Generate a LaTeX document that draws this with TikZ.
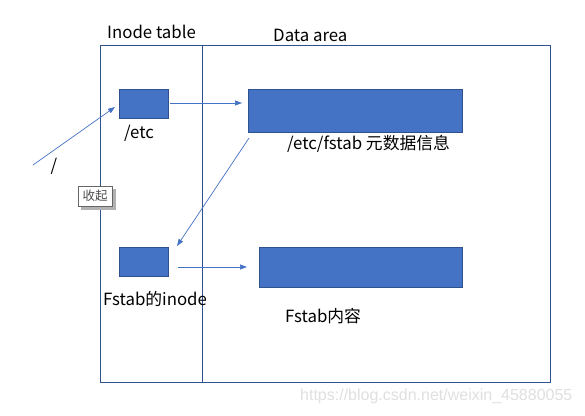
\documentclass[tikz,border=0pt]{standalone}
\usepackage{fontspec}
\setmainfont{Noto Sans CJK SC}
\newfontfamily\wm{Liberation Sans}
\definecolor{boxfill}{HTML}{4472C4}
\definecolor{boxline}{HTML}{2F528F}
\definecolor{arr}{HTML}{4472C4}
\usetikzlibrary{arrows.meta}
\begin{document}
\begin{tikzpicture}[x=1pt,y=-1pt,
  blk/.style={draw=boxline,fill=boxfill,line width=0.8pt,inner sep=0pt},
  frame/.style={draw=boxline,line width=0.8pt},
  conn/.style={draw=arr,line width=0.7pt,-{Triangle[length=7pt,width=5pt]}},
  lbl/.style={inner sep=0pt,font=\fontsize{16.8}{19}\selectfont}]
\useasboundingbox (0,0) rectangle (585,415);
\fill[white] (0,0) rectangle (585,415);
% frame
\draw[frame] (100,45) rectangle (550,382);
\draw[frame] (202,45) -- (202,382);
\node[lbl,anchor=west] (tinode) at (107,32) {Inode table};
\node[lbl,anchor=west] (tdata) at (273,35) {Data area};
% boxes
\node[blk,minimum width=49pt,minimum height=29pt] (etc) at (143.5,103.5) {};
\node[blk,minimum width=214pt,minimum height=43pt] (meta) at (355,110.5) {};
\node[blk,minimum width=49pt,minimum height=29pt] (fino) at (143.5,261.5) {};
\node[blk,minimum width=203pt,minimum height=40pt] (fcont) at (360.5,267) {};
% labels
\node[lbl,anchor=west] (letc) at (124,133) {/etc};
\node[lbl,anchor=west] (lmeta) at (287,144) {/etc/fstab 元数据信息};
\node[lbl,anchor=west] (lfino) at (103,299) {Fstab的inode};
\node[lbl,anchor=west] (lfcont) at (285,316) {Fstab内容};
\node[lbl] (lroot) at (54,166) {/};
% connectors
\coordinate (rootstart) at (33,165);
\coordinate (a1s) at (170,103);
\coordinate (a1e) at (242,103);
\coordinate (a2s) at (249,138);
\coordinate (a2e) at (177,246);
\coordinate (a3s) at (178,267);
\coordinate (a3e) at (247,267);
\draw[conn] (rootstart) -- (115,107);
\draw[conn] (a1s) -- (a1e);
\draw[conn] (a2s) -- (a2e);
\draw[conn] (a3s) -- (a3e);
% popup
\fill[black!30] (81,189) rectangle (116,210);
\node[draw=black!60,fill=white,minimum width=34pt,minimum height=20pt,inner sep=0pt,text=black!70,font=\fontsize{12.5}{14}\selectfont] (popup) at (95,196) {收起};
% watermark
\node[anchor=west,inner sep=0pt,text=black!12,font=\wm\fontsize{16}{18}\selectfont] (wmk) at (300,396) {https://blog.csdn.net/weixin\_45880055};
\end{tikzpicture}
\end{document}
